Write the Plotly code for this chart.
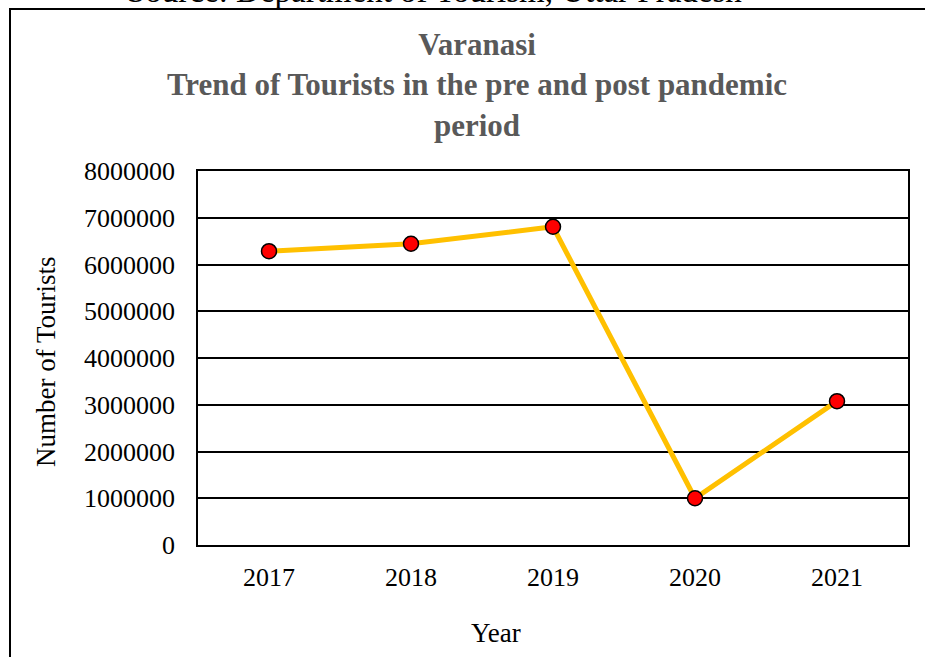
import plotly.graph_objects as go

years = ["2017", "2018", "2019", "2020", "2021"]
tourists = [6285000, 6443000, 6807000, 1000000, 3077000]
y_ticks = [0, 1000000, 2000000, 3000000, 4000000, 5000000, 6000000, 7000000, 8000000]

title_text = "Varanasi<br>Trend of Tourists in the pre and post pandemic<br>period"
source_text = "Source: Department of Tourism, Uttar Pradesh"
x_title = "Year"
y_title = "Number of Tourists"

FONT = "Liberation Serif, Times New Roman, serif"

W, H = 925, 657
L, R, T, B = 198, 908, 171, 545

def px(x):
    return (x - L) / (R - L)

def py(y):
    return (B - y) / (B - T)

fig = go.Figure()
fig.add_trace(go.Scatter(
    x=years, y=tourists, mode="lines+markers",
    line=dict(color="#FFC000", width=5),
    marker=dict(color="#FF0000", size=15, line=dict(color="black", width=1.5)),
    showlegend=False,
))

fig.update_layout(
    width=W, height=H,
    margin=dict(l=L, r=W - R, t=T, b=H - B, autoexpand=False),
    paper_bgcolor="white", plot_bgcolor="white",
    font=dict(family=FONT, color="black", size=26),
    title=dict(text=title_text, x=477 / W, xanchor="center", xref="container",
               y=1 - 55 / H, yanchor="middle", yref="container",
               font=dict(family=FONT, size=31, color="#595959", weight="bold")),
    xaxis=dict(type="category", range=[-0.5, len(years) - 0.5],
               showline=True, mirror=True, linecolor="black", linewidth=1.5,
               showgrid=False, ticks="", ticklabelstandoff=8,
               tickfont=dict(size=26, family=FONT, color="black")),
    yaxis=dict(range=[0, 8000000], tickvals=y_ticks, ticktext=[str(v) for v in y_ticks],
               showline=True, mirror=True, linecolor="black", linewidth=1.5,
               showgrid=True, gridcolor="black", gridwidth=1.5, zeroline=False,
               ticks="", ticklabelstandoff=16,
               tickfont=dict(size=26, family=FONT, color="black")),
    annotations=[
        dict(text=x_title, xref="paper", yref="paper", x=px(496), y=py(633),
             xanchor="center", yanchor="middle", showarrow=False,
             font=dict(size=27, family=FONT, color="black")),
        dict(text=y_title, xref="paper", yref="paper", x=px(46), y=py(362),
             xanchor="center", yanchor="middle", showarrow=False, textangle=-90,
             font=dict(size=27, family=FONT, color="black")),
        dict(text=source_text, xref="paper", yref="paper", x=px(434), y=py(-9),
             xanchor="center", yanchor="middle", showarrow=False,
             font=dict(size=33, family=FONT, color="black")),
    ],
    shapes=[
        dict(type="rect", xref="paper", yref="paper",
             x0=px(10), x1=px(935), y0=py(670), y1=py(9),
             line=dict(color="black", width=2), fillcolor="rgba(0,0,0,0)", layer="below"),
    ],
)

fig.write_html("out.html", config={"displayModeBar": False},
               post_script="document.body.style.margin='0';")
